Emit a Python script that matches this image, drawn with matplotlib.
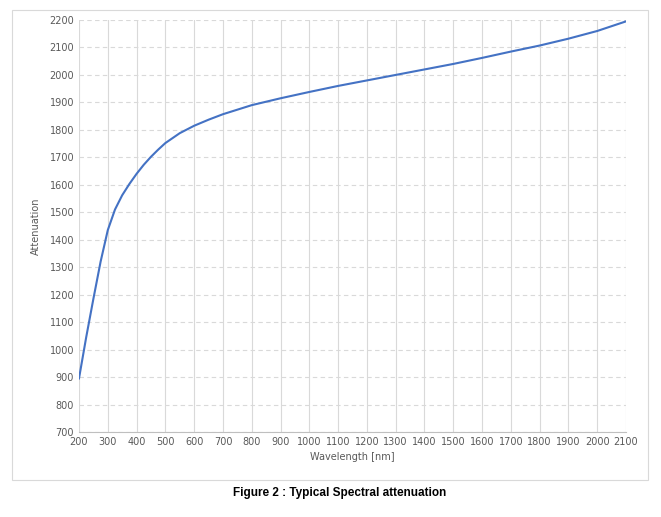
import matplotlib.pyplot as plt
from matplotlib.patches import Rectangle

wavelength = [200, 225, 250, 275, 300, 325, 350, 375, 400, 425, 450, 475, 500, 550, 600, 650, 700, 800, 900,
              1000, 1100, 1200, 1300, 1400, 1500, 1600, 1700, 1800, 1900, 2000, 2100]
attenuation = [895, 1045, 1185, 1320, 1435, 1510, 1562, 1603, 1640, 1673, 1702, 1728, 1752, 1788, 1815, 1837,
               1857, 1890, 1915, 1938, 1960, 1980, 2000, 2020, 2040, 2062, 2085, 2107, 2132, 2160, 2195]

fig = plt.figure(figsize=(6.61, 5.17), dpi=100)
ax = fig.add_axes([79/661, 1-432/517, (626-79)/661, (432-20)/517])

ax.plot(wavelength, attenuation, color='#4472C4', lw=1.5)
ax.set_xlim(200, 2100)
ax.set_ylim(700, 2200)
ax.set_xticks(range(200, 2101, 100))
ax.set_yticks(range(700, 2201, 100))
ax.grid(axis='x', color='#d9d9d9', lw=0.8)
ax.grid(axis='y', color='#d9d9d9', lw=0.8, ls=(0, (4, 3)))
ax.set_axisbelow(True)
for s in ['top', 'right', 'left']:
    ax.spines[s].set_visible(False)
ax.spines['bottom'].set_color('#bfbfbf')
ax.tick_params(length=0, labelsize=7, colors='#595959')
ax.set_xlabel('Wavelength [nm]', fontsize=7, color='#595959', labelpad=4)
ax.set_ylabel('Attenuation', fontsize=7, color='#595959', labelpad=6)

fig.patches.append(Rectangle((12/661, 1-480/517), (648-12)/661, (480-10)/517,
                             transform=fig.transFigure, fill=False, ec='#d9d9d9', lw=0.8))
fig.text(340/661, 1-493/517, 'Figure 2 : Typical Spectral attenuation', ha='center', va='center',
         fontsize=8.5, fontweight='bold', family='Liberation Sans')

fig.savefig('out.png', dpi=100)
